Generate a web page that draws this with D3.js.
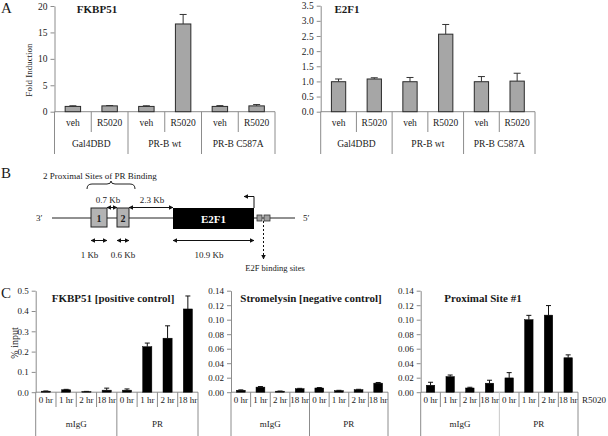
<!DOCTYPE html>
<html><head><meta charset="utf-8">
<script src="https://cdn.jsdelivr.net/npm/d3@7"></script>
<style>body{margin:0;background:#fff}svg text{font-family:"Liberation Serif","Times New Roman",serif;fill:#1a1a1a}</style>
</head><body><svg id="c" width="608" height="436"></svg>
<script>
// ---------- Panel A data ----------
const treatA = ["veh","R5020","veh","R5020","veh","R5020"];
const constructsA = ["Gal4DBD","PR-B wt","PR-B C587A"];
const fkbp51A = [1.0, 1.1, 1.0, 16.6, 1.0, 1.1];
const fkbp51AErr = [1.12, 1.17, 1.12, 18.4, 1.15, 1.35];
const e2f1A = [0.99, 1.08, 0.99, 2.56, 0.99, 1.01];
const e2f1AErr = [1.08, 1.12, 1.13, 2.88, 1.16, 1.27];
const ticksFkbpA = [0, 5, 10, 15, 20];
const ticksE2f1A = [0, 0.5, 1.0, 1.5, 2.0, 2.5, 3.0, 3.5];

// ---------- Panel C data ----------
const timesC = ["0 hr","1 hr","2 hr","18 hr","0 hr","1 hr","2 hr","18 hr"];
const antibodiesC = ["mIgG","PR"];
const fkbp51C = [0.005, 0.012, 0.003, 0.010, 0.010, 0.224, 0.266, 0.410];
const fkbp51CErr = [0.006, 0.014, 0.004, 0.020, 0.016, 0.242, 0.327, 0.474];
const stromC = [0.0027, 0.0070, 0.0014, 0.0048, 0.0058, 0.0022, 0.0035, 0.0125];
const stromCErr = [0.0032, 0.0078, 0.0016, 0.0053, 0.0064, 0.0026, 0.0040, 0.0134];
const proxC = [0.0096, 0.0215, 0.0058, 0.0124, 0.0197, 0.1000, 0.1063, 0.0475];
const proxCErr = [0.0137, 0.0237, 0.0068, 0.0165, 0.0270, 0.1060, 0.1195, 0.0515];
const ticksFkbpC = [0, 0.1, 0.2, 0.3, 0.4, 0.5];
const ticksSmallC = [0, 0.02, 0.04, 0.06, 0.08, 0.10, 0.12, 0.14];

// ---------- Panel B (schematic, arbitrary map units) ----------
const mapExtent = [0, 243];            // genomic line
const proximalSites = [{label:"1", start:39, end:55}, {label:"2", start:65, end:77}];
const geneBox = {label:"E2F1", start:121, end:202};
const e2fSites = [{start:205, end:210}, {start:212, end:218}];
const spacerArrows = [{label:"0.7  Kb", start:55, end:65}, {label:"2.3  Kb", start:77, end:121}];
const sizeArrows = [{label:"1 Kb", start:39, end:55, lx:37.5}, {label:"0.6 Kb", start:65, end:77, lx:71}, {label:"10.9  Kb", start:121, end:202, lx:157}];

const svg = d3.select("#c");
const AX = "#8c8c8c";

// arrow markers
const defs = svg.append("defs");
function marker(id, orient){
  defs.append("marker").attr("id", id).attr("viewBox","0 0 10 10").attr("refX",9).attr("refY",5)
    .attr("markerWidth",4.5).attr("markerHeight",4.5).attr("orient",orient)
    .append("path").attr("d","M0,0L10,5L0,10z").attr("fill","#111");
}
marker("ah","auto"); marker("ahs","auto-start-reverse");

function barChart(o){
  const n = o.values.length;
  const g = svg.append("g");
  const x = d3.scaleBand().domain(d3.range(n)).range([o.x0, o.x1]);
  const y = d3.scaleLinear().domain([0, o.ymax]).range([o.yBase, o.yTop]);
  const bw = x.bandwidth()*o.barFrac;
  // axis
  const ax = g.append("g").attr("transform",`translate(${o.x0},0)`)
    .call(d3.axisLeft(y).tickValues(o.ticks).tickFormat(o.fmt).tickSize(4).tickSizeOuter(0).tickPadding(3));
  ax.select(".domain").attr("stroke", AX);
  ax.selectAll(".tick line").attr("stroke", AX);
  ax.selectAll(".tick text").style("font-family",'"Liberation Serif",serif').style("font-size", o.tickFs+"px").attr("fill","#1a1a1a");
  // extension of axis and baseline
  g.append("line").attr("x1",o.x0).attr("x2",o.x0).attr("y1",o.yBase).attr("y2",o.groupBottom).attr("stroke",AX);
  g.append("line").attr("x1",o.x0).attr("x2",o.x1).attr("y1",o.yBase).attr("y2",o.yBase).attr("stroke",AX);
  // separators
  for(let i=1;i<=n;i++){
    const xx = x.step()*i + o.x0;
    const isGroup = i % o.groupSize === 0;
    g.append("line").attr("x1",xx).attr("x2",xx).attr("y1",o.yBase)
      .attr("y2", isGroup ? o.groupBottom : o.innerBottom)
      .attr("stroke", (isGroup && i<n && o.groupSepColor) ? o.groupSepColor : AX);
  }
  // bars
  g.selectAll(".bar").data(o.values).join("rect")
    .attr("x",(d,i)=>x(i)+(x.bandwidth()-bw)/2).attr("width",bw)
    .attr("y",d=>y(d)).attr("height",d=>o.yBase-y(d))
    .attr("fill",o.fill).attr("stroke",o.stroke).attr("stroke-width",o.sw);
  // error bars
  o.errs.forEach((e,i)=>{
    const cx = x(i)+x.bandwidth()/2;
    g.append("line").attr("x1",cx).attr("x2",cx).attr("y1",y(o.values[i])).attr("y2",y(e)).attr("stroke",o.errColor).attr("stroke-width",1);
    g.append("line").attr("x1",cx-o.cap/2).attr("x2",cx+o.cap/2).attr("y1",y(e)).attr("y2",y(e)).attr("stroke",o.errColor).attr("stroke-width",1);
  });
  // labels
  o.cats.forEach((c,i)=>{
    g.append("text").attr("x",x(i)+x.bandwidth()/2).attr("y",o.row1Y).attr("text-anchor","middle")
      .attr("dominant-baseline","central").style("font-size",o.catFs+"px").text(c);
  });
  o.groups.forEach((c,j)=>{
    g.append("text").attr("x",o.x0 + x.step()*(j*o.groupSize + o.groupSize/2)).attr("y",o.row2Y).attr("text-anchor","middle")
      .attr("dominant-baseline","central").style("font-size",o.catFs+"px").text(c);
  });
  g.append("text").attr("x",o.titleX).attr("y",o.titleY).attr("text-anchor","middle").attr("dominant-baseline","central")
    .style("font-size",o.titleFs+"px").style("font-weight","bold").text(o.title);
  return {x,y};
}

const fmtInt = d3.format("d"), fmt1 = d3.format(".1f"), fmt2 = d3.format(".2f");

// Panel A
barChart({x0:54.5,x1:275,yTop:6,yBase:111.7,ymax:20,ticks:ticksFkbpA,fmt:fmtInt,values:fkbp51A,errs:fkbp51AErr,
  cats:treatA,groups:constructsA,groupSize:2,fill:"#a6a6a6",stroke:"#2a2a2a",sw:1,barFrac:0.42,errColor:"#333",cap:7,
  innerBottom:132,groupBottom:154,row1Y:123,row2Y:144,tickFs:9.5,catFs:9.5,title:"FKBP51",titleX:97,titleY:8.5,titleFs:11});
barChart({x0:320.7,x1:535,yTop:5.7,yBase:111.7,ymax:3.5,ticks:ticksE2f1A,fmt:fmt1,values:e2f1A,errs:e2f1AErr,
  cats:treatA,groups:constructsA,groupSize:2,fill:"#a6a6a6",stroke:"#2a2a2a",sw:1,barFrac:0.40,errColor:"#333",cap:7,
  innerBottom:132,groupBottom:154,row1Y:123,row2Y:144,tickFs:9.5,catFs:9.5,title:"E2F1",titleX:347,titleY:8.5,titleFs:11});
svg.append("text").attr("transform","translate(29,70) rotate(-90)").attr("text-anchor","middle").attr("dominant-baseline","central")
  .style("font-size","9px").text("Fold Induction");

// Panel C
barChart({x0:35.7,x1:198,yTop:290.7,yBase:392.2,ymax:0.5,ticks:ticksFkbpC,fmt:fmt1,values:fkbp51C,errs:fkbp51CErr,
  cats:timesC,groups:antibodiesC,groupSize:4,fill:"#000",stroke:"#000",sw:0.5,barFrac:0.45,errColor:"#111",cap:5,
  innerBottom:407,groupBottom:436,row1Y:399.5,row2Y:424,tickFs:9,catFs:9,title:"FKBP51 [positive control]",titleX:113,titleY:298,titleFs:11});
barChart({x0:231,x1:388,yTop:290.7,yBase:392.2,ymax:0.14,ticks:ticksSmallC,fmt:fmt2,values:stromC,errs:stromCErr,
  cats:timesC,groups:antibodiesC,groupSize:4,fill:"#000",stroke:"#000",sw:0.5,barFrac:0.45,errColor:"#111",cap:5,
  innerBottom:407,groupBottom:436,row1Y:399.5,row2Y:424,tickFs:9,catFs:9,title:"Stromelysin [negative control]",titleX:311,titleY:298,titleFs:11});
barChart({x0:420.7,x1:578,yTop:290.7,yBase:392.2,ymax:0.14,ticks:ticksSmallC,fmt:fmt2,values:proxC,errs:proxCErr,
  cats:timesC,groups:antibodiesC,groupSize:4,fill:"#000",stroke:"#000",sw:0.5,barFrac:0.43,errColor:"#111",cap:5,
  innerBottom:407,groupBottom:436,row1Y:399.5,row2Y:424,tickFs:9,catFs:9,title:"Proximal Site #1",titleX:483,titleY:298,titleFs:11,groupSepColor:"#c8c8c8"});
svg.append("text").attr("x",594).attr("y",399.5).attr("text-anchor","middle").attr("dominant-baseline","central").style("font-size","9px").text("R5020");
svg.append("text").attr("transform","translate(14,343) rotate(-90)").attr("text-anchor","middle").attr("dominant-baseline","central")
  .style("font-size","10px").text("% input");

// Panel labels
[["A",1,13],["B",1,178],["C",1,298]].forEach(([t,x,y])=>{
  svg.append("text").attr("x",x).attr("y",y).style("font-size","15px").text(t);
});

// ---------- Panel B diagram ----------
const mx = d3.scaleLinear().domain(mapExtent).range([52,295]);
const lineY = 218, boxTop = 208, boxBot = 227;
const b = svg.append("g");
b.append("line").attr("x1",mx(mapExtent[0])).attr("x2",mx(mapExtent[1])).attr("y1",lineY).attr("y2",lineY).attr("stroke","#222").attr("stroke-width",1);
b.append("text").attr("x",36).attr("y",lineY).attr("dominant-baseline","central").style("font-size","9px").text("3′");
b.append("text").attr("x",303).attr("y",lineY).attr("dominant-baseline","central").style("font-size","9px").text("5′");
proximalSites.forEach(s=>{
  b.append("rect").attr("x",mx(s.start)).attr("y",boxTop).attr("width",mx(s.end)-mx(s.start)).attr("height",boxBot-boxTop)
    .attr("fill","#b3b3b3").attr("stroke","#222").attr("stroke-width",1);
  b.append("text").attr("x",(mx(s.start)+mx(s.end))/2).attr("y",(boxTop+boxBot)/2+0.5).attr("text-anchor","middle").attr("dominant-baseline","central")
    .style("font-size","10px").style("font-weight","bold").text(s.label);
});
b.append("rect").attr("x",mx(geneBox.start)).attr("y",boxTop).attr("width",mx(geneBox.end)-mx(geneBox.start)).attr("height",boxBot-boxTop+2).attr("fill","#000");
b.append("text").attr("x",(mx(geneBox.start)+mx(geneBox.end))/2).attr("y",(boxTop+boxBot)/2+1).attr("text-anchor","middle").attr("dominant-baseline","central")
  .style("font-size","11px").style("font-weight","bold").style("fill","#fff").text(geneBox.label);
e2fSites.forEach(s=>{
  b.append("rect").attr("x",mx(s.start)).attr("y",lineY-3).attr("width",mx(s.end)-mx(s.start)).attr("height",6)
    .attr("fill","#a0a0a0").attr("stroke","#333").attr("stroke-width",0.8);
});
// transcription start arrow
b.append("path").attr("d",`M${mx(geneBox.end)},${boxTop}V196.5H${mx(geneBox.end)-10}`).attr("fill","none").attr("stroke","#111").attr("stroke-width",1).attr("marker-end","url(#ah)");
// dashed arrow to E2F sites
const eMid = (mx(e2fSites[0].start)+mx(e2fSites[1].end))/2;
b.append("line").attr("x1",eMid).attr("x2",eMid).attr("y1",lineY+3).attr("y2",259).attr("stroke","#111").attr("stroke-dasharray","2,2").attr("marker-end","url(#ah)");
b.append("text").attr("x",275).attr("y",268).attr("text-anchor","middle").attr("dominant-baseline","central").style("font-size","8.5px").text("E2F binding sites");
// spacer arrows
spacerArrows.forEach(s=>{
  b.append("line").attr("x1",mx(s.start)).attr("x2",mx(s.end)).attr("y1",207.5).attr("y2",207.5).attr("stroke","#111")
    .attr("marker-start","url(#ahs)").attr("marker-end","url(#ah)");
});
b.append("text").attr("x",108).attr("y",200).attr("text-anchor","middle").attr("dominant-baseline","central").style("font-size","9px").text(spacerArrows[0].label);
b.append("text").attr("x",152).attr("y",200).attr("text-anchor","middle").attr("dominant-baseline","central").style("font-size","9px").text(spacerArrows[1].label);
sizeArrows.forEach(s=>{
  b.append("line").attr("x1",mx(s.start)).attr("x2",mx(s.end)).attr("y1",240.5).attr("y2",240.5).attr("stroke","#111")
    .attr("marker-start","url(#ahs)").attr("marker-end","url(#ah)");
  b.append("text").attr("x",mx(s.lx)).attr("y",255).attr("text-anchor","middle").attr("dominant-baseline","central").style("font-size","9px").text(s.label);
});
// brace
const bx0 = 87, bx1 = 135, bm = (bx0+bx1)/2;
b.append("path").attr("d",`M${bx0},189 Q${bx0},184 ${bx0+5},184 L${bm-4},184 Q${bm},184 ${bm},181 Q${bm},184 ${bm+4},184 L${bx1-5},184 Q${bx1},184 ${bx1},189`)
  .attr("fill","none").attr("stroke","#222").attr("stroke-width",1);
b.append("text").attr("x",43).attr("y",175.5).attr("dominant-baseline","central").style("font-size","9px").text("2 Proximal Sites of PR Binding");
</script></body></html>
